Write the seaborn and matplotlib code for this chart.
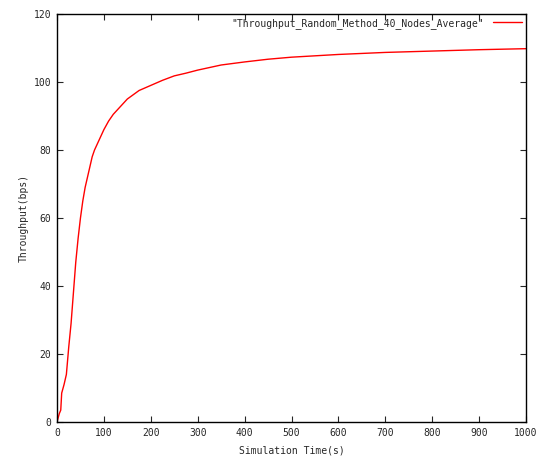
import matplotlib
matplotlib.use("Agg")
import matplotlib.pyplot as plt
import seaborn as sns
import pandas as pd

time_s = [0, 5, 8, 10, 15, 20, 25, 30, 35, 40, 45, 50, 55, 60, 65, 70, 75, 80, 90,
          100, 110, 120, 130, 140, 150, 160, 175, 200, 225, 250, 275, 300, 350,
          400, 450, 500, 600, 700, 800, 900, 1000]
throughput = [0, 2.5, 3.5, 8.5, 11, 14, 22, 29, 38, 47, 54, 60, 65, 69, 72, 75, 78,
              80, 83, 86, 88.5, 90.5, 92, 93.5, 95, 96, 97.5, 99, 100.5, 101.8,
              102.6, 103.5, 105, 105.9, 106.7, 107.3, 108.1, 108.7, 109.1, 109.5, 109.8]
series_label = '"Throughput_Random_Method_40_Nodes_Average"'
x_ticks = [0, 100, 200, 300, 400, 500, 600, 700, 800, 900, 1000]
y_ticks = [0, 20, 40, 60, 80, 100, 120]

df = pd.DataFrame({"t": time_s, "v": throughput})

sns.set_style("ticks")
plt.rcParams['font.family'] = ['DejaVu Sans Mono']

fig = plt.figure(figsize=(5.39, 4.59), dpi=100)
ax = fig.add_axes([57/539, 37/459, 469/539, 408/459])
sns.lineplot(data=df, x="t", y="v", ax=ax, color="red", linewidth=1.0, label=series_label)

ax.set_xlim(0, 1000)
ax.set_ylim(0, 120)
ax.set_xticks(x_ticks)
ax.set_yticks(y_ticks)
ax.tick_params(direction="in", length=4, width=0.8, labelsize=7, top=True, right=True, pad=4)
for s in ax.spines.values():
    s.set_color("black")
    s.set_linewidth(1.0)
ax.set_xlabel("Simulation Time(s)", fontsize=7, labelpad=6)
ax.set_ylabel("Throughput(bps)", fontsize=7)
leg = ax.legend(loc="upper right", frameon=False, fontsize=7, markerfirst=False,
                handlelength=3, borderaxespad=0.0, handletextpad=0.9)
fig.savefig("out.png", dpi=100)
